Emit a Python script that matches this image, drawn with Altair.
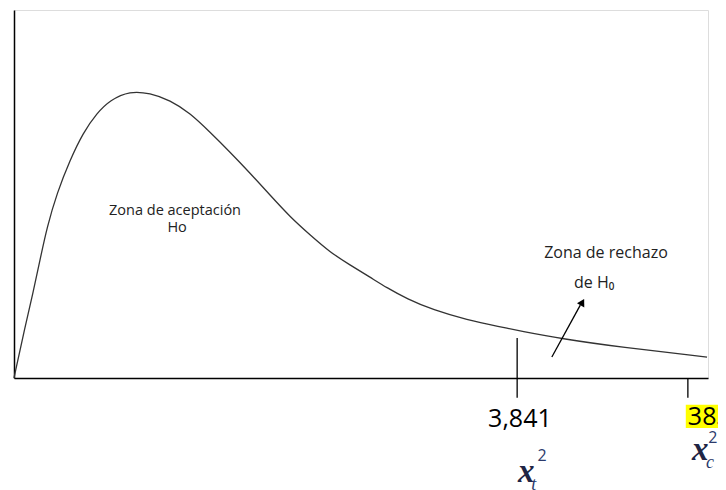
import altair as alt
import pandas as pd

# --- data (arbitrary schematic units: x 0..100, y 0..100) ---
curve_x = [0.0, 1.59, 2.74, 3.75, 4.76, 6.20, 8.07, 9.94, 11.96, 13.83, 16.71, 19.60,
           22.48, 25.36, 28.24, 31.12, 34.01, 36.89, 39.77, 42.65, 45.53, 48.41, 51.30,
           53.75, 56.63, 60.37, 65.27, 70.03, 72.91, 79.11, 87.32, 99.86]
curve_y = [0.0, 13.9, 23.1, 32.1, 41.0, 50.3, 59.2, 66.6, 72.0, 75.5, 78.0, 77.4,
           75.5, 72.0, 66.8, 61.4, 55.7, 49.7, 43.8, 38.9, 34.2, 30.7, 27.4,
           24.5, 21.5, 18.5, 15.8, 13.9, 12.8, 10.6, 8.4, 5.7]

# critical-value ticks
tick_x = [72.5, 97.1]
tick_top = [10.9, 0.0]
tick_bottom = [-5.4, -5.4]
tick_labels = ["3,841", "383"]

# zone labels
zone_text = ["Zona de aceptación", "Ho", "Zona de rechazo", "de H₀"]
zone_x = [23.2, 23.5, 85.3, 83.6]
zone_y = [45.4, 40.8, 34.0, 25.8]
zone_size = [14.5, 14.5, 16, 16]

# arrow
arrow_x = [77.5, 81.6]
arrow_y = [5.7, 19.8]
arrow_head_x = [81.9]
arrow_head_y = [20.6]

# chi-square symbols
sym_x_pos = [73.8, 98.9]
sym_x_y = [-25.5, -19.6]
sup_pos = [76.1, 100.7]
sup_y = [-21.2, -16.3]
sub_text = ["t", "c"]
sub_pos = [74.9, 100.3]
sub_y = [-29.1, -23.1]

# --- frames ---
curve = pd.DataFrame({"x": curve_x, "y": curve_y})
ticks = pd.DataFrame({"x": tick_x, "y": tick_top, "y2": tick_bottom})
zones = pd.DataFrame({"x": zone_x, "y": zone_y, "t": zone_text, "s": zone_size})
arrow = pd.DataFrame({"x": arrow_x, "y": arrow_y})
head = pd.DataFrame({"x": arrow_head_x, "y": arrow_head_y})
lab1 = pd.DataFrame({"x": [72.9], "y": [-11.1], "t": [tick_labels[0]]})
lab2 = pd.DataFrame({"x": [97.1], "y": [-10.6], "t": [tick_labels[1]]})
hl = pd.DataFrame({"x": [96.8], "x2": [104.0], "y": [-7.3], "y2": [-13.6]})
symx = pd.DataFrame({"x": sym_x_pos, "y": sym_x_y, "t": ["x", "x"]})
sup = pd.DataFrame({"x": sup_pos, "y": sup_y, "t": ["2", "2"]})
sub = pd.DataFrame({"x": sub_pos, "y": sub_y, "t": sub_text})

xs = alt.Scale(domain=[0, 100], nice=False, zero=False)
ys = alt.Scale(domain=[0, 100], nice=False, zero=False)
ax = alt.Axis(labels=False, ticks=False, grid=False, title=None, domainColor="black", domainWidth=1.5)
X = lambda f="x": alt.X(f"{f}:Q", scale=xs, axis=ax)
Y = lambda f="y": alt.Y(f"{f}:Q", scale=ys, axis=ax)

line = alt.Chart(curve).mark_line(color="#333333", strokeWidth=1.3, interpolate="basis", clip=False).encode(x=X(), y=Y())
tick_rules = alt.Chart(ticks).mark_rule(color="black", strokeWidth=1.3).encode(x=X(), y=Y(), y2="y2:Q")
zone_txt = alt.Chart(zones).mark_text(font="Open Sans", color="#222222").encode(
    x=X(), y=Y(), text="t:N", size=alt.Size("s:Q", scale=None, legend=None))
arrow_line = alt.Chart(arrow).mark_line(color="black", strokeWidth=1.3).encode(x=X(), y=Y())
arrow_head = alt.Chart(head).mark_point(shape="triangle-up", filled=True, color="black", size=70, angle=29, opacity=1).encode(x=X(), y=Y())
highlight = alt.Chart(hl).mark_rect(color="#FFFF00").encode(x=X(), x2="x2:Q", y=Y(), y2="y2:Q")
label1 = alt.Chart(lab1).mark_text(font="Open Sans", fontSize=25, color="black", baseline="middle").encode(x=X(), y=Y(), text="t:N")
label2 = alt.Chart(lab2).mark_text(font="Open Sans", fontSize=25, color="black", baseline="middle", align="left").encode(x=X(), y=Y(), text="t:N")
sx = alt.Chart(symx).mark_text(font="Liberation Serif", fontSize=33, fontStyle="italic", fontWeight="bold", color="#1F2544", baseline="middle").encode(x=X(), y=Y(), text="t:N")
sp = alt.Chart(sup).mark_text(font="Open Sans", fontSize=16, color="#2B3A6B", baseline="middle").encode(x=X(), y=Y(), text="t:N")
sb = alt.Chart(sub).mark_text(font="Liberation Serif", fontSize=18, fontStyle="italic", color="#2B3A6B", baseline="middle").encode(x=X(), y=Y(), text="t:N")

chart = alt.layer(highlight, line, tick_rules, zone_txt, arrow_line, arrow_head, label1, label2, sx, sp, sb).properties(
    width=694, height=368, autosize="none",
    padding={"left": 6, "top": 2, "right": 10, "bottom": 112},
).configure_view(stroke=None).configure(background="white")

chart.save("out.html", embed_options={"renderer": "svg", "actions": False})
